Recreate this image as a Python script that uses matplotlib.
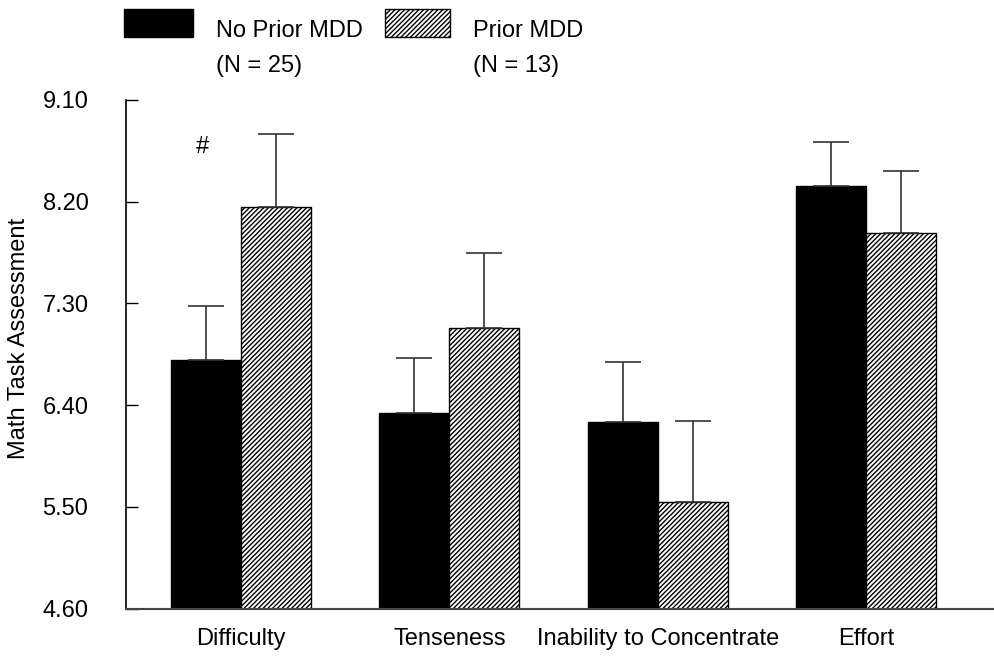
import numpy as np
import matplotlib
matplotlib.use("Agg")
import matplotlib.pyplot as plt
from matplotlib.patches import Rectangle

plt.rcParams['font.family'] = ['Liberation Sans', 'DejaVu Sans']
plt.rcParams['hatch.linewidth'] = 1.0

categories = ['Difficulty', 'Tenseness', 'Inability to Concentrate', 'Effort']
no_prior = [6.80, 6.33, 6.25, 8.34]
no_prior_top = [7.28, 6.82, 6.78, 8.73]
prior = [8.15, 7.08, 5.54, 7.92]
prior_top = [8.80, 7.75, 6.26, 8.47]
yticks = [4.60, 5.50, 6.40, 7.30, 8.20, 9.10]

fig = plt.figure(figsize=(9.95, 6.56), dpi=100)
ax = fig.add_axes([0.1266, 0.0724, 0.8734, 0.7752])

x = np.arange(len(categories))
w = 0.336
base = yticks[0]
hatch = '///////'

h1 = np.array(no_prior) - base
h2 = np.array(prior) - base
e1 = np.array(no_prior_top) - np.array(no_prior)
e2 = np.array(prior_top) - np.array(prior)

ax.bar(x - w / 2, h1, w, bottom=base, color='black', edgecolor='black', linewidth=1)
ax.bar(x + w / 2, h2, w, bottom=base, color='white', edgecolor='black',
       linewidth=1, hatch=hatch)

# one-sided (upper) error bars
err_kw = dict(fmt='none', ecolor='#333333', elinewidth=1.2, capsize=12.7, capthick=1.2)
ax.errorbar(x - w / 2, no_prior, yerr=[np.zeros(len(x)), e1], **err_kw)
ax.errorbar(x + w / 2, prior, yerr=[np.zeros(len(x)), e2], **err_kw)

ax.text(-0.185, 8.684, '#', ha='center', va='center', fontsize=17)

ax.set_xlim(-0.552, 3.619)
ax.set_ylim(yticks[0], yticks[-1])
ax.set_yticks(yticks)
ax.set_yticklabels(['%.2f' % t for t in yticks])
ax.set_xticks(x)
ax.set_xticklabels(categories)
ax.tick_params(axis='y', direction='in', length=8.6, width=1, pad=27, labelsize=17)
ax.tick_params(axis='x', length=0, pad=14, labelsize=17)
ax.set_ylabel('Math Task Assessment', fontsize=17)
ax.yaxis.set_label_coords(-0.110, 0.532)

for s in ['top', 'right']:
    ax.spines[s].set_visible(False)
ax.spines['left'].set_linewidth(1.2)
ax.spines['bottom'].set_linewidth(1.5)
ax.spines['bottom'].set_color('#444444')

# legend swatches and labels in figure pixels
W, H = 995, 656
def fig_rect(x0, y0, x1, y1, **kw):
    fig.patches.append(Rectangle((x0 / W, 1 - y1 / H), (x1 - x0) / W, (y1 - y0) / H,
                                 transform=fig.transFigure, figure=fig, **kw))

fig_rect(124, 9, 193, 37, facecolor='black', edgecolor='black', linewidth=1)
fig_rect(385, 9, 450, 37, facecolor='white', edgecolor='black', linewidth=1, hatch=hatch)
fig.text(216 / W, 1 - 37 / H, 'No Prior MDD', fontsize=17, va='baseline')
fig.text(216 / W, 1 - 72 / H, '(N = 25)', fontsize=17, va='baseline')
fig.text(473 / W, 1 - 37 / H, 'Prior MDD', fontsize=17, va='baseline')
fig.text(473 / W, 1 - 72 / H, '(N = 13)', fontsize=17, va='baseline')

fig.savefig('out.png', dpi=100)
